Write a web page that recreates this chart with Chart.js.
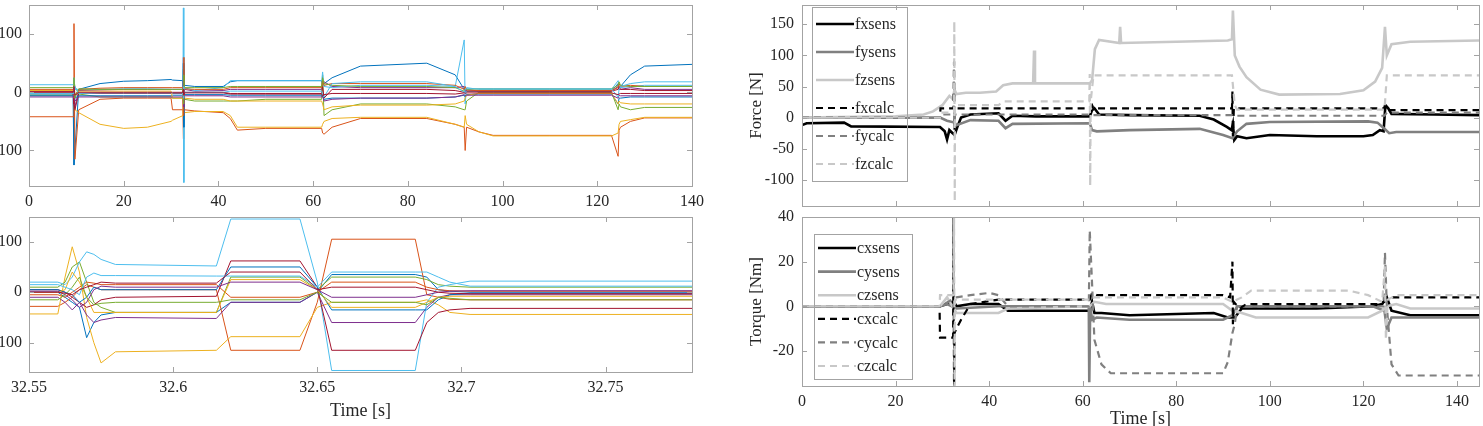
<!DOCTYPE html>
<html>
<head>
<meta charset="utf-8">
<script src="https://cdn.jsdelivr.net/npm/chart.js@4.4.1/dist/chart.umd.min.js"></script>
<style>
  html, body { margin: 0; padding: 0; background: #fff; }
  body { width: 1483px; height: 426px; position: relative; overflow: hidden; }
  .panel { position: absolute; }
</style>
</head>
<body>
<div class="panel" style="left:-30px; top:0; width:740px; height:215px;"><canvas id="overviewChart"></canvas></div>
<div class="panel" style="left:-30px; top:200px; width:740px; height:226px;"><canvas id="zoomChart"></canvas></div>
<div class="panel" style="left:730px; top:0; width:753px; height:212px;"><canvas id="forceChart"></canvas></div>
<div class="panel" style="left:730px; top:200px; width:753px; height:232px;"><canvas id="torqueChart"></canvas></div>
<script>
// --- 1. DATA ---

// left top: all joint signals over the whole run (shared time base)
const ovTime = [0, 9.3, 9.5, 9.7, 10.5, 15, 20, 25, 30, 30.3, 32.5, 32.6, 32.7, 32.8, 35, 41, 42.5, 44, 50, 61.8,
                62, 62.3, 64, 70, 84, 90, 91.9, 92.1, 92.4, 95, 98, 110, 123, 124.4, 124.6, 124.9, 127, 130, 140];
const ov01 = [-3, -3, -125, -100, 5, 15, 19, 20, 22, 21, 20, 15, -20, 12, 10, 10, 18, 20, 20, 20, 10, 15, 25, 45, 50, 30, 5, 0, 2, 2, 2, 2, 2, 15, 5, 10, 30, 45, 48];
const ov02 = [-42, -42, 118, -115, -30, -12, -10, -10, -10, -30, -30, -80, 40, -30, -32, -35, -45, -65, -62, -62, -70, -72, -60, -45, -45, -55, -60, -100, -60, -68, -74, -74, -74, -110, -65, -60, -50, -44, -44];
const ov03 = [-2, -2, 20, -30, -35, -55, -62, -60, -50, -48, -40, 30, -50, -35, -33, -33, -40, -60, -60, -60, -55, -50, -45, -43, -43, -55, -60, -40, -55, -68, -75, -75, -75, -70, -55, -50, -47, -43, -43];
const ov04 = [2, 2, -20, -25, 3, 4, 5, 5, 5, 5, 5, 60, -40, 5, 2, 3, 5, 5, 5, 5, 15, 18, 10, 8, 8, 8, 10, 0, 5, 2, 2, 2, 2, 10, 5, 5, 8, 5, 5];
const ov05 = [-5, -5, 20, 10, -3, -8, -8, -8, -8, -10, -10, 40, -30, -12, -15, -15, -15, -15, -12, -12, 30, -40, -30, -20, -20, -25, -30, -30, -15, 0, 0, 0, 0, -30, -20, -25, -30, -26, -26];
const ov06 = [13, 13, 25, 5, 5, 5, 6, 6, 5, 5, 5, 145, -155, 8, 3, 8, 20, 20, 20, 20, 35, 10, 8, 12, 12, 10, 90, -20, 8, 5, 5, 5, 5, 20, 10, 8, 10, 12, 12];
const ov07 = [0, 0, -20, -30, -2, -2, -2, -2, -2, -2, -2, -30, 20, 0, 0, 0, -2, -2, -2, -2, 10, -10, 5, 5, 5, 3, 0, 5, 2, 2, 2, 2, 2, 5, 10, 5, 5, 3, 3];
const ov08 = [-6, -6, 10, -10, -6, -6, -6, -6, -6, -5, -5, 50, -60, -4, -4, -4, -5, -5, -5, -5, -8, -12, -10, -10, -10, -8, -5, -8, -4, -3, -3, -3, -3, -20, -10, -10, -8, -8, -8];
const ov09 = [5, 5, -10, -5, 5, 7, 8, 8, 8, 8, 8, -40, 60, 6, 5, 5, 8, 8, 8, 8, 20, 12, 15, 15, 15, 12, 5, 10, 4, 3, 3, 3, 3, 8, 15, 10, 12, 10, 10];
const ov10 = [3, 3, 5, -5, 2, 2, 2, 2, 2, -10, -10, 10, -20, -10, -12, -12, -15, -15, -15, -15, -20, -30, -25, -22, -22, -20, -15, -10, -5, -2, -2, -2, -2, -20, -15, -18, -20, -20, -20];
const ov11 = [-8, -8, 5, -15, -8, -8, -8, -8, -8, -8, -8, 20, -25, -6, -6, -6, -8, -8, -8, -8, -5, -15, -12, -10, -10, -8, -4, -6, -5, -5, -5, -5, -5, -10, -5, -6, -6, -6, -6];
const ov12 = [8, 8, 25, -10, 6, 5, 5, 5, 5, 5, 5, -20, 30, 8, 8, 8, 10, 10, 10, 10, 25, 15, 12, 10, 10, 8, 2, 5, 5, 6, 6, 6, 6, 12, 18, 12, 10, 10, 10];
const ov13 = [-2, -2, 0, 10, -2, -1, -1, -1, -1, -1, -1, -10, 10, 0, 0, 0, 2, 2, 2, 2, -5, -8, 15, 18, 18, 10, 0, 5, 6, 6, 6, 6, 6, -8, 5, 10, 15, 18, 18];
const ov14 = [1, 1, 10, -5, 0, 0, 0, 0, 0, 0, 0, 5, -5, -1, -1, -1, -3, -3, -3, -3, -6, -4, -2, -2, -2, -3, -1, -2, -1, -1, -1, -1, -1, -4, -3, -2, -2, -2, -2];
const overviewLines = [ov01, ov02, ov03, ov04, ov05, ov06, ov07, ov08, ov09, ov10, ov11, ov12, ov13, ov14];

// left bottom: zoom around the impact at t = 32.6 s
const zmTime = [32.55, 32.56, 32.5625, 32.565, 32.5675, 32.57, 32.5725, 32.575, 32.58, 32.615,
                32.62, 32.644, 32.65, 32.655, 32.684, 32.688, 32.692, 32.696, 32.703, 32.78];
const zm01 = [0, 0, -10, -20, -30, -90, -60, -45, -40, -40, -20, -20, 0, 35, 35, 30, 5, 2, 0, 0];
const zm02 = [-28, -28, -20, -10, 5, 15, 10, 5, 5, 5, -115, -115, -20, 105, 105, -5, -10, -14, -15, -15];
const zm03 = [-43, -43, 30, 90, 40, -50, -100, -140, -118, -115, -88, -88, -30, -20, -20, -15, -25, -40, -44, -44];
const zm04 = [-10, -10, -20, -35, -20, -45, -60, -55, -50, -52, -20, -20, 0, -60, -60, -30, -10, -5, -5, -5];
const zm05 = [10, 10, 20, 50, 60, 20, -20, -30, -40, -40, 30, 30, 5, 30, 30, 25, 15, 12, 10, 10];
const zm06 = [20, 20, 15, 30, 60, 80, 75, 65, 55, 52, 145, 145, 20, -155, -155, -20, 10, 15, 22, 22];
const zm07 = [5, 5, 0, -10, -20, -30, -25, -15, -10, -8, 62, 62, 10, -115, -115, -60, -40, -35, -32, -32];
const zm08 = [5, 5, 0, -5, -20, -10, 10, 5, 5, 5, 50, 50, 10, -35, -35, -35, -15, -5, -2, -2];
const zm09 = [-5, -5, -10, 0, 10, 20, 18, 15, 15, 15, -10, -10, 0, 20, 20, 10, 5, 3, 2, 2];
const zm10 = [0, 0, 5, 40, 20, -10, -40, -40, -40, -40, 25, 25, 5, -30, -30, -20, -10, -8, -8, -8];
const zm11 = [2, 2, -5, -15, -30, -20, 5, 12, 10, 10, 20, 20, 5, -10, -10, -5, 0, 2, 3, 3];
const zm12 = [-15, -15, -5, 10, 30, -10, -25, -22, -20, -20, -15, -15, 0, -20, -20, -25, -10, -12, -15, -15];
const zm13 = [15, 15, 10, 5, -5, 30, 38, 33, 33, 32, 32, 32, 10, 40, 40, 40, 30, 20, 12, 12];
const zm14 = [0, 0, -2, -5, 5, 10, 15, 20, 18, 18, 40, 40, 5, 10, 10, 5, 0, -2, -3, -3];
const zoomLines = [zm01, zm02, zm03, zm04, zm05, zm06, zm07, zm08, zm09, zm10, zm11, zm12, zm13, zm14];

// right top: forces, measured (sens) and computed (calc)
const fxSensT = [0, 1, 9, 10.5, 29.5, 30.5, 31, 31.5, 32.2, 32.6, 33.2, 34, 36, 42, 43.5, 45, 50, 61.5, 62, 62.5, 63.5, 70, 85, 88, 90.8, 91.8, 92.1, 92.4, 93, 95, 100, 110, 120, 122, 123.5, 124.3, 124.7, 125.3, 126, 135, 144.7];
const fxSensV = [-12, -9, -8, -14, -15, -22, -35, -20, -25, -28, -15, 0, 5, 7, -5, 3, 2, 2, 12, 15, 5, 4, 3, -3, -15, -20, -10, -36, -30, -33, -28, -30, -30, -28, -20, -22, 20, 15, 6, 5, 4];
const fySensT = [0, 29.5, 31, 32.6, 33, 36, 42, 43.5, 45, 61.5, 62, 63, 70, 85, 90, 92, 93, 95, 100, 121, 123, 124.5, 125.5, 127, 144.7];
const fySensV = [0, 0, -5, -8, -12, -4, -5, -17, -10, -9, -20, -22, -20, -18, -28, -33, -22, -10, -7, -6, -8, -18, -25, -23, -23];
const fzSensT = [0, 20, 26, 28, 30, 31.5, 32.2, 32.6, 33, 35, 38, 41.5, 43, 45, 49.4, 49.6, 49.8, 55, 61.5, 62, 62.6, 63.5, 67.8, 68, 68.2, 80, 91, 91.9, 92.1, 92.5, 93.5, 95, 98, 102, 115, 120, 122.5, 124, 124.6, 125, 126, 130, 144.7];
const fzSensV = [0, 2, 5, 10, 20, 35, 30, 45, 38, 40, 40, 42, 52, 55, 55, 108, 55, 55, 55, 60, 110, 125, 120, 146, 120, 122, 124, 126, 172, 100, 82, 65, 45, 37, 38, 44, 58, 80, 146, 100, 118, 122, 124];
const fxCalcT = [0, 29.5, 29.6, 32.4, 32.5, 32.6, 32.7, 61.5, 62, 62.3, 91.9, 92, 92.1, 92.3, 124.4, 124.6, 125, 144.7];
const fxCalcV = [0, 0, 15, 15, 90, -20, 15, 15, 20, 15, 15, 42, -30, 15, 15, 20, 12, 12];
const fyCalcT = [0, 29.5, 29.6, 32.5, 32.6, 32.7, 61.5, 62, 91.9, 92.2, 124.5, 125, 144.7];
const fyCalcV = [0, 0, 5, 5, -10, 5, 5, 4, 4, 3, 3, 8, 8];
const fzCalcT = [0, 29.5, 29.6, 32.5, 32.55, 32.65, 32.7, 33, 42, 43, 61.4, 61.5, 61.6, 61.7, 62.3, 91.9, 92.5, 93, 124.5, 125, 144.7];
const fzCalcV = [0, 0, 8, 8, 155, -135, 20, 20, 20, 26, 26, 70, -110, 26, 68, 68, 20, 13, 13, 68, 68];

// right bottom: torques
const cxSensT = [0, 29.5, 31, 32.5, 33, 36, 42, 44, 61.5, 62, 62.5, 64, 70, 88, 91, 92.5, 94, 110, 122, 124, 125, 126, 130, 144.7];
const cxSensV = [0, 0, 1, 2, 0, 1, 1, -2, -2, 2, -3, -3, -4, -3, -5, -5, -1, -1, 0, 1, 4, -2, -4, -4];
const cySensT = [0, 29.5, 31, 33, 42, 61.3, 61.4, 61.6, 62, 63, 70, 90, 92, 93, 95, 122, 124.5, 125, 126, 128, 144.7];
const cySensV = [0, 0, 1, -1, 0, 0, -34, 0, -6, -5, -6, -6, -4, 0, 0, 0, -2, -10, -5, -5, -5];
const czSensT = [0, 29.5, 31, 33, 35, 42, 44, 61.5, 62.5, 65, 90, 92, 94, 97, 121, 124, 125, 127, 130, 144.7];
const czSensV = [0, 0, 4, -3, -3, -3, -1, 0, 2, 1, 1, -2, -3, -5, -5, -2, 0, 1, -1, -1];
const cxCalcT = [0, 29.4, 29.5, 32.3, 32.4, 32.5, 32.6, 33, 34, 36, 42, 61.5, 62, 63, 90, 91.5, 92, 92.1, 92.3, 93.5, 95, 123, 124.5, 125.5, 127, 144.7];
const cxCalcV = [0, 0, -14, -14, 42, -38, -12, -10, -6, 1, 3, 3, 6, 5, 5, 4, 20, -8, 2, -1, 1, 1, 2, 4, 4, 4];
const cyCalcT = [0, 29.5, 33, 36, 40, 42, 44, 61.3, 61.5, 62, 62.5, 64, 66, 90, 91, 92, 92.5, 93, 95, 124.3, 124.6, 125, 126, 127.5, 144.7];
const cyCalcV = [0, 0, 4, 5, 6, 5, 0, 0, 34, 10, -15, -26, -30, -30, -25, -12, -8, 0, 0, 0, 24, 0, -26, -31, -31];
const czCalcT = [0, 29.4, 29.5, 32.4, 32.5, 32.6, 32.7, 33, 42, 61.5, 62, 90, 92, 94, 96, 117, 121, 124, 124.6, 124.8, 125.2, 127, 144.7];
const czCalcV = [0, 0, 5, 5, 40, -36, 3, 3, 3, 3, 4, 4, 2, 4, 7, 7, 5, 2, 18, -15, 3, 5, 5];

// ticks and labels
const timeTicks = [0, 20, 40, 60, 80, 100, 120, 140];
const timeLabels = ['0', '20', '40', '60', '80', '100', '120', '140'];
const jointTicks = [100, 0, -100];
const jointLabels = ['100', '0', '\u2212100'];
const zoomTicks = [32.55, 32.6, 32.65, 32.7, 32.75];
const zoomLabels = ['32.55', '32.6', '32.65', '32.7', '32.75'];
const forceTicks = [150, 100, 50, 0, -50, -100];
const forceLabels = ['150', '100', '50', '0', '-50', '-100'];
const torqueTicks = [40, 20, 0, -20];
const torqueLabels = ['40', '20', '0', '-20'];
const forceNames = ['fxsens', 'fysens', 'fzsens', 'fxcalc', 'fycalc', 'fzcalc'];
const torqueNames = ['cxsens', 'cysens', 'czsens', 'cxcalc', 'cycalc', 'czcalc'];

const matlabColors = ['#0072BD', '#D95319', '#EDB120', '#7E2F8E', '#77AC30', '#4DBEEE', '#A2142F'];
const grays = ['#000000', '#808080', '#c8c8c8'];
const AXIS_GRAY = '#a3a3a3';
const TEXT = '#262626';

// --- 2. HELPERS ---
Chart.defaults.font.family = "'Liberation Serif', 'Times New Roman', serif";
Chart.defaults.font.size = 16;
Chart.defaults.color = TEXT;

function pts(t, v) { return t.map((x, i) => ({ x: x, y: v[i] })); }

function makeScale(min, max, tickValues, tickLabels, size, extra) {
    return Object.assign({
        type: 'linear', min: min, max: max,
        grid: { display: false, drawTicks: false }, border: { display: false },
        afterBuildTicks: s => { s.ticks = tickValues.map(v => ({ value: v })); },
        afterFit: s => {
            if (s.isHorizontal()) s.height = size; else s.width = size;
            s.paddingTop = s.paddingBottom = s.paddingLeft = s.paddingRight = 0;
        },
        ticks: { padding: 6, maxRotation: 0, autoSkip: false, callback: (v, i) => tickLabels[i] }
    }, extra || {});
}

// matlab style box with inward ticks on all four sides
const matlabBox = {
    id: 'matlabBox',
    afterDatasetsDraw(chart) {
        const { ctx, chartArea: a, scales } = chart;
        ctx.save();
        ctx.strokeStyle = AXIS_GRAY; ctx.lineWidth = 1;
        ctx.beginPath();
        scales.x.ticks.forEach(t => {
            const px = Math.round(scales.x.getPixelForValue(t.value)) + 0.5;
            ctx.moveTo(px, a.bottom); ctx.lineTo(px, a.bottom - 5);
            ctx.moveTo(px, a.top); ctx.lineTo(px, a.top + 5);
        });
        scales.y.ticks.forEach(t => {
            const py = Math.round(scales.y.getPixelForValue(t.value)) + 0.5;
            ctx.moveTo(a.left, py); ctx.lineTo(a.left + 5, py);
            ctx.moveTo(a.right, py); ctx.lineTo(a.right - 5, py);
        });
        ctx.stroke();
        ctx.strokeRect(Math.round(a.left) + 0.5, Math.round(a.top) + 0.5, Math.round(a.right - a.left), Math.round(a.bottom - a.top));
        ctx.restore();
    }
};

// transparent legend box inside the axes
const boxLegend = {
    id: 'boxLegend',
    afterDraw(chart, args, o) {
        if (!o || !o.w) return;
        const { ctx, chartArea: a } = chart;
        const x0 = Math.round(a.left + o.dx), y0 = Math.round(a.top + o.dy);
        ctx.save();
        ctx.strokeStyle = AXIS_GRAY; ctx.lineWidth = 1;
        ctx.strokeRect(x0 + 0.5, y0 + 0.5, o.w, o.h);
        ctx.font = "16px 'Liberation Serif'";
        ctx.textBaseline = 'middle';
        chart.data.datasets.forEach((ds, i) => {
            const y = y0 + o.first + i * o.rowH;
            ctx.strokeStyle = ds.borderColor; ctx.lineWidth = ds.borderWidth;
            ctx.setLineDash(ds.borderDash || []);
            ctx.beginPath(); ctx.moveTo(x0 + 4, y); ctx.lineTo(x0 + 42, y); ctx.stroke();
            ctx.setLineDash([]);
            ctx.fillStyle = TEXT;
            ctx.fillText(ds.label, x0 + 43, y + 1);
        });
        ctx.restore();
    }
};

function baseOptions(padding, xScale, yScale, legend) {
    return {
        responsive: true, maintainAspectRatio: false, animation: false, events: [],
        layout: { padding: padding, autoPadding: false },
        elements: { point: { radius: 0 }, line: { tension: 0 } },
        scales: { x: xScale, y: yScale },
        plugins: { legend: { display: false }, tooltip: { enabled: false }, boxLegend: legend || {} }
    };
}

function thinLines(time, lines) {
    return lines.map((vals, i) => ({
        data: pts(time, vals), borderColor: matlabColors[i % 7], borderWidth: 1, order: lines.length - i
    }));
}

function grayLines(names, series) {
    return series.map((s, i) => ({
        label: names[i], data: pts(s[0], s[1]),
        borderColor: grays[i % 3], borderWidth: i < 3 ? 2.6 : 2.2,
        borderDash: i < 3 ? [] : [7, 5], order: series.length - i
    }));
}

// --- 3. CHARTS ---
new Chart(document.getElementById('overviewChart'), {
    type: 'line',
    data: { datasets: thinLines(ovTime, overviewLines) },
    options: baseOptions({ left: 0, right: 18, top: 5, bottom: 0 },
        makeScale(0, 140, timeTicks, timeLabels, 29),
        makeScale(-161, 150, jointTicks, jointLabels, 59, { ticks: { padding: 7, callback: (v, i) => jointLabels[i] } })),
    plugins: [matlabBox]
});

new Chart(document.getElementById('zoomChart'), {
    type: 'line',
    data: { datasets: thinLines(zmTime, zoomLines) },
    options: baseOptions({ left: 0, right: 18, top: 17, bottom: 0 },
        makeScale(32.55, 32.78, zoomTicks, zoomLabels, 54, {
            title: { display: true, text: 'Time [s]', font: { size: 18 }, padding: { top: 0, bottom: 4 } }
        }),
        makeScale(-158, 149, jointTicks, jointLabels, 59, { ticks: { padding: 7, callback: (v, i) => jointLabels[i] } })),
    plugins: [matlabBox]
});

new Chart(document.getElementById('forceChart'), {
    type: 'line',
    data: { datasets: grayLines(forceNames, [[fxSensT, fxSensV], [fySensT, fySensV], [fzSensT, fzSensV], [fxCalcT, fxCalcV], [fyCalcT, fyCalcV], [fzCalcT, fzCalcV]]) },
    options: baseOptions({ left: 0, right: 4, top: 5, bottom: 0 },
        makeScale(0, 144.7, timeTicks, timeLabels, 6, { ticks: { display: false } }),
        makeScale(-142, 181, forceTicks, forceLabels, 72, {
            ticks: { padding: 8, callback: (v, i) => forceLabels[i] },
            title: { display: true, text: 'Force [N]', font: { size: 17 }, padding: { top: 16, bottom: 0 } }
        }),
        { dx: 10, dy: 2, w: 95, h: 174, first: 17, rowH: 28 }),
    plugins: [matlabBox, boxLegend]
});

new Chart(document.getElementById('torqueChart'), {
    type: 'line',
    data: { datasets: grayLines(torqueNames, [[cxSensT, cxSensV], [cySensT, cySensV], [czSensT, czSensV], [cxCalcT, cxCalcV], [cyCalcT, cyCalcV], [czCalcT, czCalcV]]) },
    options: baseOptions({ left: 0, right: 4, top: 17, bottom: 0 },
        makeScale(0, 144.7, timeTicks, timeLabels, 46, {
            title: { display: true, text: 'Time [s]', font: { size: 18 }, padding: { top: 0, bottom: 2 } }
        }),
        makeScale(-35.7, 40, torqueTicks, torqueLabels, 72, {
            ticks: { padding: 8, callback: (v, i) => torqueLabels[i] },
            title: { display: true, text: 'Torque [Nm]', font: { size: 17 }, padding: { top: 16, bottom: 0 } }
        }),
        { dx: 12, dy: 17, w: 98, h: 145, first: 14, rowH: 23.6 }),
    plugins: [matlabBox, boxLegend]
});
</script>
</body>
</html>
